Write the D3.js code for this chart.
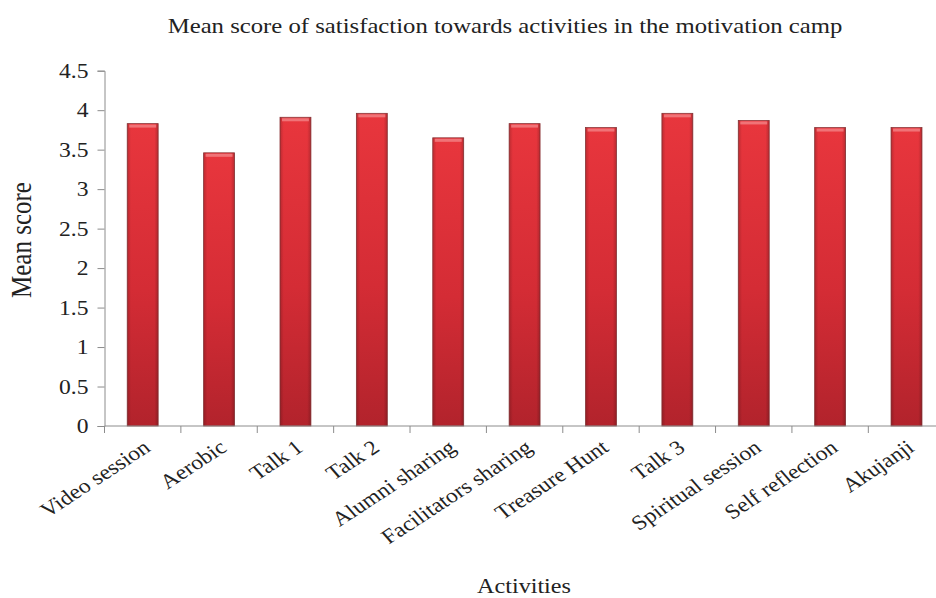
<!DOCTYPE html>
<html>
<head>
<meta charset="utf-8">
<script src="https://cdn.jsdelivr.net/npm/d3@7"></script>
<style>
  body { margin: 0; background: #fff; }
  svg text { font-family: "Liberation Serif", "Times New Roman", serif !important; fill: #222; }
</style>
</head>
<body>
<svg width="936" height="598"></svg>
<script>
const activities = ['Video session', 'Aerobic', 'Talk 1', 'Talk 2', 'Alumni sharing',
  'Facilitators sharing', 'Treasure Hunt', 'Talk 3', 'Spiritual session', 'Self reflection', 'Akujanji'];
const meanScores = [3.83, 3.46, 3.91, 3.96, 3.65, 3.83, 3.78, 3.96, 3.87, 3.78, 3.78];
const yTicks = [0, 0.5, 1, 1.5, 2, 2.5, 3, 3.5, 4, 4.5];

const svg = d3.select('svg');
const SX = 1.15; // the picture is a bit wider than tall

const x = d3.scaleBand()
  .domain(activities)
  .range([104.5, 944.7])
  .paddingInner(0.595)
  .paddingOuter(0.2975);

const y = d3.scaleLinear().domain([0, 4.5]).range([426, 70.7]);

// gradients for bars
const defs = svg.append('defs');
const grad = defs.append('linearGradient')
  .attr('id', 'barGrad').attr('x1', 0).attr('y1', 0).attr('x2', 0).attr('y2', 1);
grad.append('stop').attr('offset', '0%').attr('stop-color', '#e8363d');
grad.append('stop').attr('offset', '55%').attr('stop-color', '#d42c35');
grad.append('stop').attr('offset', '100%').attr('stop-color', '#b2232c');

const hgrad = defs.append('linearGradient')
  .attr('id', 'sideGrad').attr('x1', 0).attr('y1', 0).attr('x2', 1).attr('y2', 0);
hgrad.append('stop').attr('offset', '0%').attr('stop-color', '#000').attr('stop-opacity', 0.18);
hgrad.append('stop').attr('offset', '12%').attr('stop-color', '#000').attr('stop-opacity', 0);
hgrad.append('stop').attr('offset', '88%').attr('stop-color', '#000').attr('stop-opacity', 0);
hgrad.append('stop').attr('offset', '100%').attr('stop-color', '#000').attr('stop-opacity', 0.2);

const bars = svg.append('g').selectAll('g')
  .data(activities)
  .join('g');

bars.append('rect')
  .attr('x', d => x(d))
  .attr('y', (d, i) => y(meanScores[i]))
  .attr('width', x.bandwidth())
  .attr('height', (d, i) => y(0) - y(meanScores[i]))
  .attr('fill', 'url(#barGrad)')
  .attr('stroke', '#8e3a3c')
  .attr('stroke-width', 0.8);

bars.append('rect')
  .attr('x', d => x(d))
  .attr('y', (d, i) => y(meanScores[i]))
  .attr('width', x.bandwidth())
  .attr('height', (d, i) => y(0) - y(meanScores[i]))
  .attr('fill', 'url(#sideGrad)');

// top bevel
bars.append('rect')
  .attr('x', d => x(d) + 2)
  .attr('y', (d, i) => y(meanScores[i]) + 1)
  .attr('width', x.bandwidth() - 4)
  .attr('height', 3)
  .attr('fill', '#f3888b')
  .attr('opacity', 0.75);

// y axis
const yAxis = svg.append('g')
  .attr('transform', 'translate(104.5,0)')
  .call(d3.axisLeft(y).tickValues(yTicks).tickSize(7).tickPadding(9).tickFormat(d3.format('')));
yAxis.selectAll('line, path').attr('stroke', '#8c8c8c');
yAxis.selectAll('.tick text')
  .style('font-size', '20.5px')
  .attr('fill', '#222')
  .attr('transform', function () {
    // stretch sideways but keep the right edge where the axis put it
    const tx = +d3.select(this).attr('x');
    return `translate(${tx},0) scale(${SX},1) translate(${-tx},0)`;
  });

// x axis
const xAxis = svg.append('g').attr('transform', 'translate(0,426)');
xAxis.append('line')
  .attr('x1', x.range()[0]).attr('x2', x.range()[1])
  .attr('stroke', '#8c8c8c');
xAxis.selectAll('.tk')
  .data(activities)
  .join('line')
  .attr('class', 'tk')
  .attr('x1', d => x(d) - x.step() * x.paddingOuter())
  .attr('x2', d => x(d) - x.step() * x.paddingOuter())
  .attr('y1', 0).attr('y2', 7)
  .attr('stroke', '#8c8c8c');
xAxis.selectAll('.lbl')
  .data(activities)
  .join('text')
  .attr('class', 'lbl')
  .attr('text-anchor', 'end')
  .attr('transform', d => `translate(${x(d) + x.bandwidth() / 2 + 9},24) scale(${SX},1) rotate(-37)`)
  .style('font-size', '20.5px')
  .text(d => d);

// titles
svg.append('text')
  .attr('transform', `translate(505,33) scale(${SX},1)`)
  .attr('text-anchor', 'middle')
  .style('font-size', '21.5px')
  .text('Mean score of satisfaction towards activities in the motivation camp');

svg.append('text')
  .attr('transform', `translate(31,240) scale(${SX},1) rotate(-90)`)
  .attr('text-anchor', 'middle')
  .style('font-size', '25px')
  .text('Mean score');

svg.append('text')
  .attr('transform', `translate(524,593) scale(${SX},1)`)
  .attr('text-anchor', 'middle')
  .style('font-size', '21px')
  .text('Activities');
</script>
</body>
</html>
